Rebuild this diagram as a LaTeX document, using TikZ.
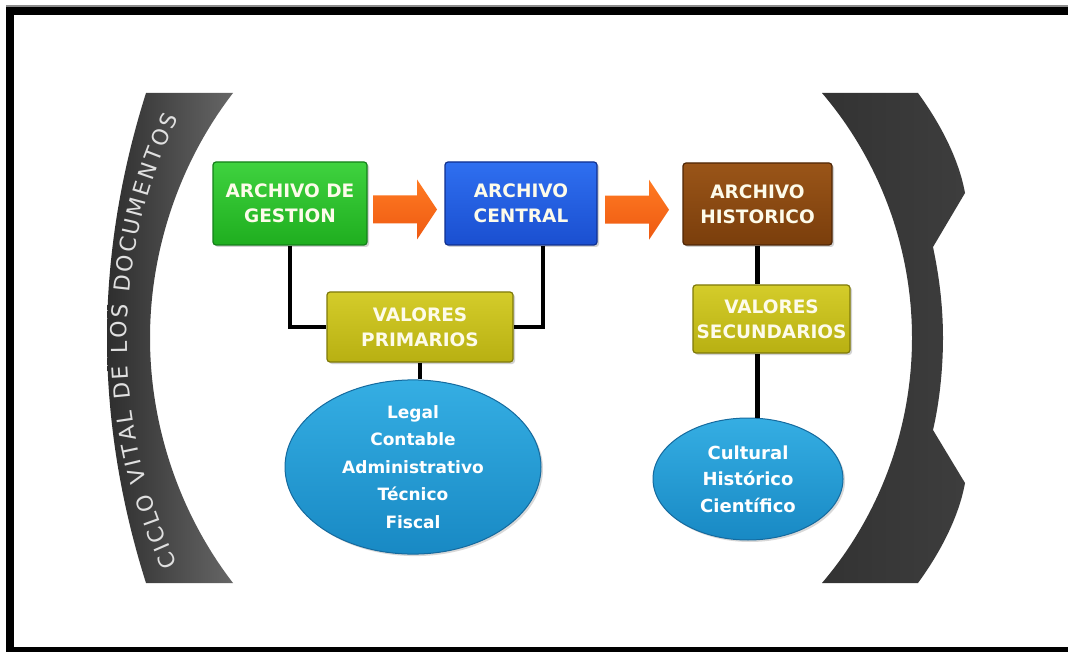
\documentclass[tikz,border=0pt]{standalone}
\usepackage{fontspec}
\setmainfont{DejaVu Sans}
\usetikzlibrary{shapes.geometric,shadows,decorations.text,calc}
\definecolor{gtop}{HTML}{3FD23F}
\definecolor{gbot}{HTML}{1FAE1F}
\definecolor{gdraw}{HTML}{14801A}
\definecolor{btop}{HTML}{2F6FF0}
\definecolor{bbot}{HTML}{1A4FD0}
\definecolor{bdraw}{HTML}{10308F}
\definecolor{ntop}{HTML}{9A5518}
\definecolor{nbot}{HTML}{7A3E0C}
\definecolor{ndraw}{HTML}{4F2606}
\definecolor{otop}{HTML}{D4CC2A}
\definecolor{obot}{HTML}{B8B012}
\definecolor{odraw}{HTML}{7F7A0A}
\definecolor{etop}{HTML}{35AEE3}
\definecolor{ebot}{HTML}{1889C4}
\definecolor{edraw}{HTML}{156A9E}
\definecolor{artop}{HTML}{FF7A22}
\definecolor{arbot}{HTML}{EE5A12}
\definecolor{boxtext}{HTML}{FDFBEA}
\begin{document}
\begin{tikzpicture}[x=1pt,y=-1pt,
  box/.style={rectangle, rounded corners=3pt, inner sep=0pt, align=center,
    text=boxtext, font=\bfseries\fontsize{18.5}{25}\selectfont, line width=1.2pt,
    drop shadow={shadow xshift=2pt,shadow yshift=-2pt,opacity=0.35}},
  greenbox/.style={box, top color=gtop, bottom color=gbot, draw=gdraw},
  bluebox/.style={box, top color=btop, bottom color=bbot, draw=bdraw},
  brownbox/.style={box, top color=ntop, bottom color=nbot, draw=ndraw},
  olivebox/.style={box, top color=otop, bottom color=obot, draw=odraw},
  valell/.style={ellipse, inner sep=0pt, align=center, text=white,
    top color=etop, bottom color=ebot, draw=edraw, line width=1pt,
    drop shadow={shadow xshift=2pt,shadow yshift=-2pt,opacity=0.3}},
  conn/.style={line width=4.5pt, black},
  arrowfill/.style={top color=artop, bottom color=arbot}]
\useasboundingbox (0,0) rectangle (1068,652);
\fill[white] (0,0) rectangle (1068,652);
% frame
\fill[black!45] (6,5.5) rectangle (1068,7.5);
\fill[black] (6,7.5) rectangle (1068,15);
\fill[black] (6,7.5) rectangle (14,652);
\fill[black] (6,647) rectangle (1068,652);
% left arc band
\shade[left color=black!82, right color=black!60]
  (146,93) -- (233,93) .. controls (179,163) and (150,251) .. (150,338)
  .. controls (150,425) and (179,513) .. (233,583) -- (146,583)
  .. controls (121,504) and (107,421) .. (107,338)
  .. controls (107,255) and (121,172) .. (146,93) -- cycle;
\path[decorate, decoration={text along path, text align=fit to path,
    text color=white!88!black,
    text={|\fontsize{22}{26}\selectfont|CICLO VITAL DE LOS DOCUMENTOS}}]
  (178,564) .. controls (144,494) and (127,418) .. (127,341)
  .. controls (127,264) and (144,188) .. (178,118);
% right bracket shape
\shade[left color=black!80, middle color=black!66, right color=black!76]
  (822,93) -- (918,93) .. controls (945,130) and (960,165) .. (965,193)
  -- (933,247) .. controls (940,280) and (943,310) .. (943,338)
  .. controls (943,366) and (940,400) .. (933,430)
  -- (965,483) .. controls (960,511) and (945,546) .. (918,583)
  -- (822,583) .. controls (880,515) and (912,428) .. (912,338)
  .. controls (912,248) and (880,161) .. (822,93) -- cycle;
% boxes
\node[greenbox, minimum width=154pt, minimum height=83pt] (gestion) at (290,203.5) {ARCHIVO DE\\GESTION};
\node[bluebox, minimum width=152pt, minimum height=83pt] (central) at (521,203.5) {ARCHIVO\\CENTRAL};
\node[brownbox, minimum width=149pt, minimum height=82pt] (hist) at (757.5,204) {ARCHIVO\\HISTORICO};
\node[olivebox, minimum width=186pt, minimum height=70pt] (vp) at (420,327) {VALORES\\PRIMARIOS};
\node[olivebox, minimum width=157pt, minimum height=68pt] (vs) at (771.5,319) {VALORES\\SECUNDARIOS};
\node[valell, minimum width=256pt, minimum height=152pt, font=\bfseries\fontsize{17}{27.5}\selectfont] (e1) at (413,467)
  {Legal\\Contable\\Administrativo\\Técnico\\Fiscal};
\node[valell, minimum width=190pt, minimum height=122pt, font=\bfseries\fontsize{18}{26.5}\selectfont] (e2) at (748,479)
  {Cultural\\Histórico\\Científico};
% arrows
\coordinate (a1) at ($(gestion.east)!0.5!(central.west)+(-1,6)$);
\coordinate (a2) at ($(central.east)!0.5!(hist.west)+(-3,6)$);
\shade[arrowfill] ($(a1)+(-32,-14)$) -- ($(a1)+(12,-14)$) -- ($(a1)+(12,-30)$) -- ($(a1)+(32,0)$)
  -- ($(a1)+(12,30)$) -- ($(a1)+(12,14)$) -- ($(a1)+(-32,14)$) -- cycle;
\shade[arrowfill] ($(a2)+(-32,-14)$) -- ($(a2)+(12,-14)$) -- ($(a2)+(12,-30)$) -- ($(a2)+(32,0)$)
  -- ($(a2)+(12,30)$) -- ($(a2)+(12,14)$) -- ($(a2)+(-32,14)$) -- cycle;
% connectors
\draw[conn] (gestion.south) |- (vp.west);
\draw[conn] ([xshift=22pt]central.south) |- (vp.east);
\draw[conn] (vp.south) -- (vp.south |- e1.north);
\draw[conn] (hist.south) -- (hist.south |- vs.north);
\draw[conn] (hist.south |- vs.south) -- (hist.south |- e2.north);
\end{tikzpicture}
\end{document}
